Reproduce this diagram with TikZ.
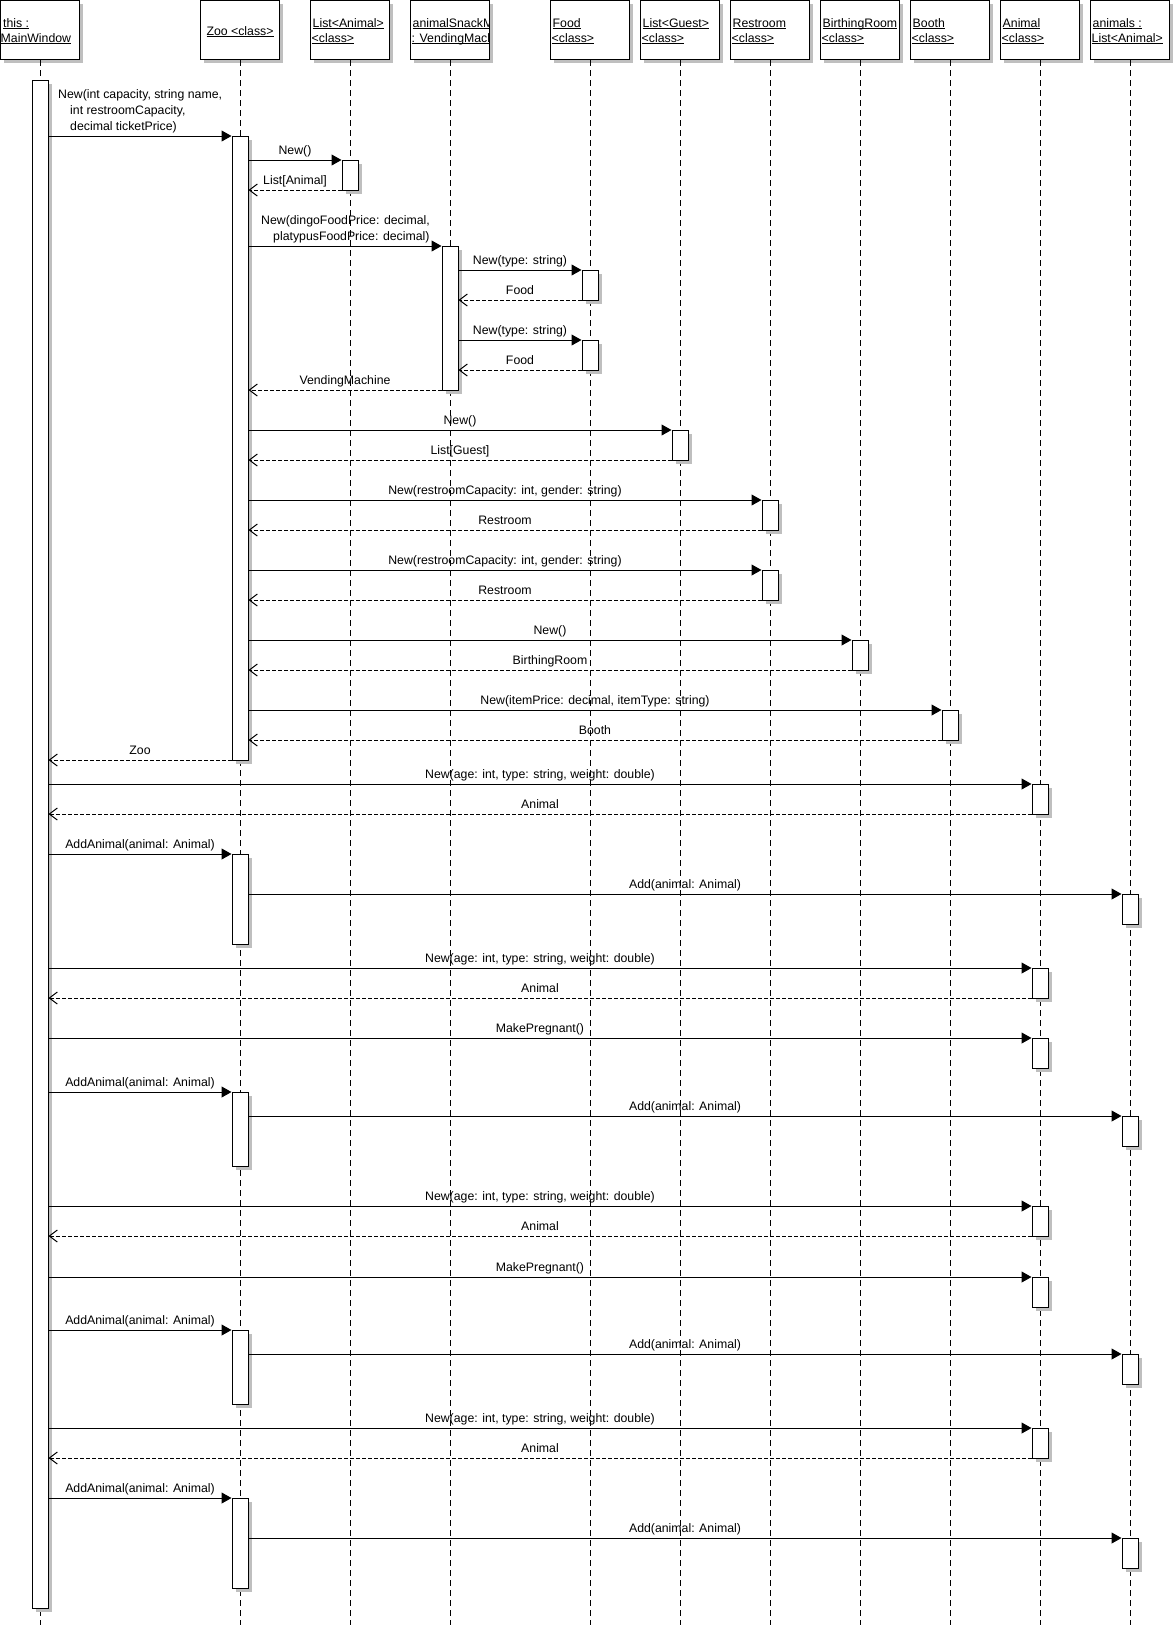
\documentclass[tikz,border=0pt]{standalone}
\usepackage{fontspec}
\setmainfont{Liberation Sans}
\usetikzlibrary{arrows.meta,shadows}
\newsavebox\ulbox
\newcommand\ult[1]{\sbox\ulbox{#1}\rlap{\rule[-1.6pt]{\wd\ulbox}{1pt}}\usebox\ulbox}
\newcounter{lblc}
\tikzset{
  shad/.style={drop shadow={shadow xshift=3.5pt, shadow yshift=-3.5pt, fill=black!25, opacity=1}},
  hbox/.style={draw, fill=white, line width=1pt, minimum width=79pt, minimum height=59pt, inner sep=0pt, shad},
  actbox/.style={draw, fill=white, line width=1pt, minimum width=16pt, inner sep=0pt, shad},
  htext/.style={anchor=base west, inner sep=0pt},
  lifeline/.style={line width=1pt, dash pattern=on 6pt off 4pt},
  sync/.style={line width=1pt, -{Triangle[length=10pt,width=11pt]}},
  ret/.style={line width=1pt, dash pattern=on 3.5pt off 2.5pt, -{Straight Barb[length=8pt,width=12pt]}},
  lbl/.style={midway, anchor=base, yshift=6pt, inner sep=0pt},
  ltext/.style={anchor=base west, inner sep=0pt},
}
% header with two lines: name, lifeline x, line1, line2
\newcommand\hdr[4]{%
  \node[hbox] (#1) at (#2,30) {};
  \begin{scope}
    \clip (#2-39.5,0.5) rectangle (#2+39.5,59.5);
    \node[htext] (#1a) at (#2-37.5,27) {\ult{#3}};
    \node[htext] (#1b) at (#2-38.5,42) {\ult{#4}};
  \end{scope}}
% activation: name, x, top, bottom
\newcommand\act[4]{\node[actbox, minimum height=#4pt-#3pt, anchor=north] (#1) at (#2,#3) {};}
% synchronous message: y, from, to, label
\newcommand\syncm[4]{\stepcounter{lblc}\draw[sync] (#2.east |- 0,#1) -- (#3.west |- 0,#1) node[lbl] (m\arabic{lblc}) {#4};}
% return message: y, from (callee), to (caller), label
\newcommand\retm[4]{\stepcounter{lblc}\draw[ret] (#2.west |- 0,#1) -- (#3.east |- 0,#1) node[lbl] (m\arabic{lblc}) {#4};}
\begin{document}
\begin{tikzpicture}[x=1pt,y=-1pt,font=\fontsize{12.3}{15}\selectfont]
\useasboundingbox (0,0) rectangle (1175,1633);
\fill[white] (0,0) rectangle (1175,1633);
% ---------- headers ----------
\node[hbox] (hMW) at (40,30) {};
\node[htext] (hMWa) at (3,27) {\ult{this :}};
\node[htext] (hMWb) at (0.5,42) {\ult{MainWindow}};
\node[hbox] (hZoo) at (240,30) {};
\node[anchor=base, inner sep=0pt] (hZooa) at (240,35) {\ult{Zoo <class>}};
\hdr{hLA}{350}{List<Animal>}{<class>}
\hdr{hSM}{450}{animalSnackMachine}{: VendingMachine}
\hdr{hF}{590}{Food}{<class>}
\hdr{hLG}{680}{List<Guest>}{<class>}
\hdr{hR}{770}{Restroom}{<class>}
\hdr{hB}{860}{BirthingRoom}{<class>}
\hdr{hBo}{950}{Booth}{<class>}
\hdr{hA}{1040}{Animal}{<class>}
\hdr{hAL}{1130}{animals :}{List<Animal>}
% ---------- lifelines ----------
\foreach \h in {hMW,hZoo,hLA,hSM,hF,hLG,hR,hB,hBo,hA,hAL}
  \draw[lifeline] (\h.south) -- (\h.south |- 0,1625);
% ---------- activations ----------
\act{mwA}{40}{80}{1608}
\act{z1}{240}{136}{760}
\act{z2}{240}{854}{944}
\act{z3}{240}{1092}{1166}
\act{z4}{240}{1330}{1404}
\act{z5}{240}{1498}{1588}
\act{la1}{350}{160}{190}
\act{sm1}{450}{246}{390}
\act{f1}{590}{270}{300}
\act{f2}{590}{340}{370}
\act{lg1}{680}{430}{460}
\act{r1}{770}{500}{530}
\act{r2}{770}{570}{600}
\act{b1}{860}{640}{670}
\act{bo1}{950}{710}{740}
\act{a1}{1040}{784}{814}
\act{a2}{1040}{968}{998}
\act{a3}{1040}{1038}{1068}
\act{a4}{1040}{1206}{1236}
\act{a5}{1040}{1277}{1307}
\act{a6}{1040}{1428}{1458}
\act{al1}{1130}{894}{924}
\act{al2}{1130}{1116}{1146}
\act{al3}{1130}{1354}{1384}
\act{al4}{1130}{1538}{1568}
% ---------- messages ----------
\draw[sync] (mwA.east |- 0,136) -- (z1.west |- 0,136);
\node[ltext] (t1a) at (58,98) {New(int capacity, string name,};
\node[ltext] (t1b) at (70,114) {int restroomCapacity,};
\node[ltext] (t1c) at (70,130) {decimal ticketPrice)};
\syncm{160}{z1}{la1}{New()}
\retm{190}{la1}{z1}{List[Animal]}
\draw[sync] (z1.east |- 0,246) -- (sm1.west |- 0,246);
\node[ltext] (t4a) at (261,224) {New(dingoFoodPrice: decimal,};
\node[ltext] (t4b) at (273,240) {platypusFoodPrice: decimal)};
\syncm{270}{sm1}{f1}{New(type: string)}
\retm{300}{f1}{sm1}{Food}
\syncm{340}{sm1}{f2}{New(type: string)}
\retm{370}{f2}{sm1}{Food}
\retm{390}{sm1}{z1}{VendingMachine}
\syncm{430}{z1}{lg1}{New()}
\retm{460}{lg1}{z1}{List[Guest]}
\syncm{500}{z1}{r1}{New(restroomCapacity: int, gender: string)}
\retm{530}{r1}{z1}{Restroom}
\syncm{570}{z1}{r2}{New(restroomCapacity: int, gender: string)}
\retm{600}{r2}{z1}{Restroom}
\syncm{640}{z1}{b1}{New()}
\retm{670}{b1}{z1}{BirthingRoom}
\syncm{710}{z1}{bo1}{New(itemPrice: decimal, itemType: string)}
\retm{740}{bo1}{z1}{Booth}
\retm{760}{z1}{mwA}{Zoo}
\syncm{784}{mwA}{a1}{New(age: int, type: string, weight: double)}
\retm{814}{a1}{mwA}{Animal}
\syncm{854}{mwA}{z2}{AddAnimal(animal: Animal)}
\syncm{894}{z2}{al1}{Add(animal: Animal)}
\syncm{968}{mwA}{a2}{New(age: int, type: string, weight: double)}
\retm{998}{a2}{mwA}{Animal}
\syncm{1038}{mwA}{a3}{MakePregnant()}
\syncm{1092}{mwA}{z3}{AddAnimal(animal: Animal)}
\syncm{1116}{z3}{al2}{Add(animal: Animal)}
\syncm{1206}{mwA}{a4}{New(age: int, type: string, weight: double)}
\retm{1236}{a4}{mwA}{Animal}
\syncm{1277}{mwA}{a5}{MakePregnant()}
\syncm{1330}{mwA}{z4}{AddAnimal(animal: Animal)}
\syncm{1354}{z4}{al3}{Add(animal: Animal)}
\syncm{1428}{mwA}{a6}{New(age: int, type: string, weight: double)}
\retm{1458}{a6}{mwA}{Animal}
\syncm{1498}{mwA}{z5}{AddAnimal(animal: Animal)}
\syncm{1538}{z5}{al4}{Add(animal: Animal)}
\end{tikzpicture}
\end{document}
